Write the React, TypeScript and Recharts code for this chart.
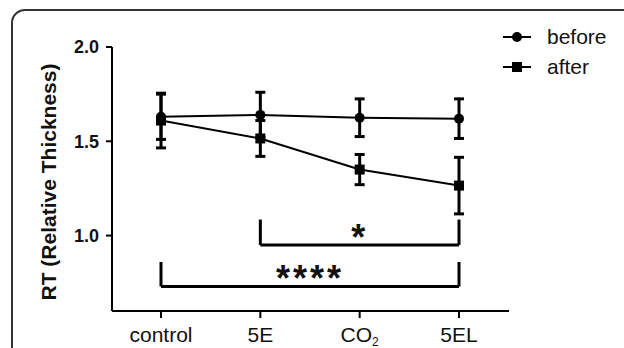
import { ComposedChart, Line, ErrorBar, XAxis, YAxis, ReferenceLine, Legend, Label } from 'recharts';

// groups on the x axis
const categories = ['control', '5E', 'CO2', '5EL'];

// relative thickness, mean and error
const beforeMean = [1.63, 1.64, 1.625, 1.62];
const beforeErr = [0.12, 0.12, 0.1, 0.105];
const afterMean = [1.61, 1.515, 1.35, 1.265];
const afterErr = [0.145, 0.095, 0.08, 0.15];

const yTicks = [1.0, 1.5, 2.0];

// significance brackets
const bracketFrom = ['5E', 'control'];
const bracketTo = ['5EL', '5EL'];
const bracketLevel = [0.95, 0.73];
const bracketTip = [1.085, 0.86];
const bracketText = ['*', '****'];

const data = categories.map((name, i) => ({
  name,
  before: beforeMean[i],
  beforeErr: beforeErr[i],
  after: afterMean[i],
  afterErr: afterErr[i],
}));

const FONT = 'Liberation Sans, Arial, sans-serif';

const SquareDot = (props: any) => {
  const { cx, cy } = props;
  if (cx == null || cy == null) return null;
  return <rect x={cx - 5} y={cy - 5} width={10} height={10} fill="#000" />;
};

const XTick = (props: any) => {
  const { x, y, payload } = props;
  const v = payload.value;
  return (
    <text x={x} y={y} dy="0.71em" textAnchor="middle" fontFamily={FONT} fontSize={21} fill="#111">
      {v === 'CO2' ? (
        <>
          CO<tspan fontSize={12} dy={4}>2</tspan>
        </>
      ) : (
        v
      )}
    </text>
  );
};

const starLabel = (text: string) => (p: any) => {
  const vb = p.viewBox;
  if (!vb) return null;
  return (
    <text
      x={vb.x + vb.width / 2}
      y={vb.y + 5}
      textAnchor="middle"
      fontFamily={FONT}
      fontSize={36}
      fontWeight="bold"
      letterSpacing={3}
      fill="#111"
    >
      {text}
    </text>
  );
};

const renderLegend = (props: any) => {
  const payload = [...props.payload].sort((a: any, b: any) => (a.value === 'before' ? -1 : b.value === 'before' ? 1 : 0));
  return (
    <div style={{ fontFamily: FONT, fontSize: 21, color: '#111' }}>
      {payload.map((entry: any) => (
        <div key={entry.value} style={{ display: 'flex', alignItems: 'center', height: 30 }}>
          <svg width={28} height={14} style={{ marginRight: 16 }}>
            <line x1={0} y1={7} x2={28} y2={7} stroke="#000" strokeWidth={2} />
            {entry.value === 'before' ? (
              <circle cx={14} cy={7} r={5} fill="#000" />
            ) : (
              <rect x={9} y={2} width={10} height={10} fill="#000" />
            )}
          </svg>
          <span>{entry.value}</span>
        </div>
      ))}
    </div>
  );
};

export default function App() {
  return (
    <div style={{ position: 'absolute', left: 0, top: 0, width: 624, height: 348, overflow: 'hidden', background: '#fff' }}>
      <div
        style={{
          position: 'absolute',
          left: 11,
          top: 9,
          width: 700,
          height: 400,
          border: '2px solid #333',
          borderTopLeftRadius: 14,
        }}
      />
      <ComposedChart
        width={624}
        height={348}
        data={data}
        margin={{ top: 47, right: 115, bottom: 0, left: 20 }}
        style={{ position: 'absolute', left: 0, top: 0 }}
      >
        <XAxis
          dataKey="name"
          height={37}
          padding={{ left: 49, right: 50 }}
          stroke="#000"
          strokeWidth={2}
          tickSize={7}
          tickMargin={9}
          tick={<XTick />}
          tickLine={{ stroke: '#000', strokeWidth: 2 }}
        />
        <YAxis
          width={92}
          domain={[0.6, 2.0]}
          ticks={yTicks}
          tickFormatter={(v: number) => v.toFixed(1)}
          stroke="#000"
          strokeWidth={2}
          tickSize={6}
          tickMargin={7}
          tick={{ fontFamily: FONT, fontSize: 18, fontWeight: 'bold', fill: '#111' }}
          tickLine={{ stroke: '#000', strokeWidth: 2 }}
        >
          <Label
            content={(p: any) => {
              const vb = p.viewBox;
              const cx = vb.x + 28;
              const cy = vb.y + vb.height / 2 + 3;
              return (
                <text
                  x={cx}
                  y={cy}
                  transform={`rotate(-90 ${cx} ${cy})`}
                  textAnchor="middle"
                  dominantBaseline="central"
                  fontFamily={FONT}
                  fontSize={21}
                  fontWeight="bold"
                  fill="#111"
                >
                  RT (Relative Thickness)
                </text>
              );
            }}
          />
        </YAxis>
        <Legend
          layout="horizontal"
          verticalAlign="middle"
          align="center"
          content={renderLegend}
          wrapperStyle={{ position: 'absolute', top: 22, left: 503, width: 120 }}
        />
        {bracketText.map((t, i) => (
          <ReferenceLine
            key={'h' + i}
            segment={[
              { x: bracketFrom[i], y: bracketLevel[i] },
              { x: bracketTo[i], y: bracketLevel[i] },
            ]}
            stroke="#000"
            strokeWidth={3}
            label={starLabel(t)}
          />
        ))}
        {bracketText.map((t, i) => (
          <ReferenceLine
            key={'l' + i}
            segment={[
              { x: bracketFrom[i], y: bracketLevel[i] },
              { x: bracketFrom[i], y: bracketTip[i] },
            ]}
            stroke="#000"
            strokeWidth={3}
          />
        ))}
        {bracketText.map((t, i) => (
          <ReferenceLine
            key={'r' + i}
            segment={[
              { x: bracketTo[i], y: bracketLevel[i] },
              { x: bracketTo[i], y: bracketTip[i] },
            ]}
            stroke="#000"
            strokeWidth={3}
          />
        ))}
        <Line
          dataKey="after"
          name="after"
          stroke="#000"
          strokeWidth={2}
          dot={<SquareDot />}
          activeDot={false}
          isAnimationActive={false}
          legendType="square"
        >
          <ErrorBar dataKey="afterErr" direction="y" width={5} stroke="#000" strokeWidth={3} isAnimationActive={false} />
        </Line>
        <Line
          dataKey="before"
          name="before"
          stroke="#000"
          strokeWidth={2}
          dot={{ r: 5, fill: '#000', stroke: '#000', strokeWidth: 0 }}
          activeDot={false}
          isAnimationActive={false}
          legendType="circle"
        >
          <ErrorBar dataKey="beforeErr" direction="y" width={5} stroke="#000" strokeWidth={3} isAnimationActive={false} />
        </Line>
      </ComposedChart>
    </div>
  );
}
